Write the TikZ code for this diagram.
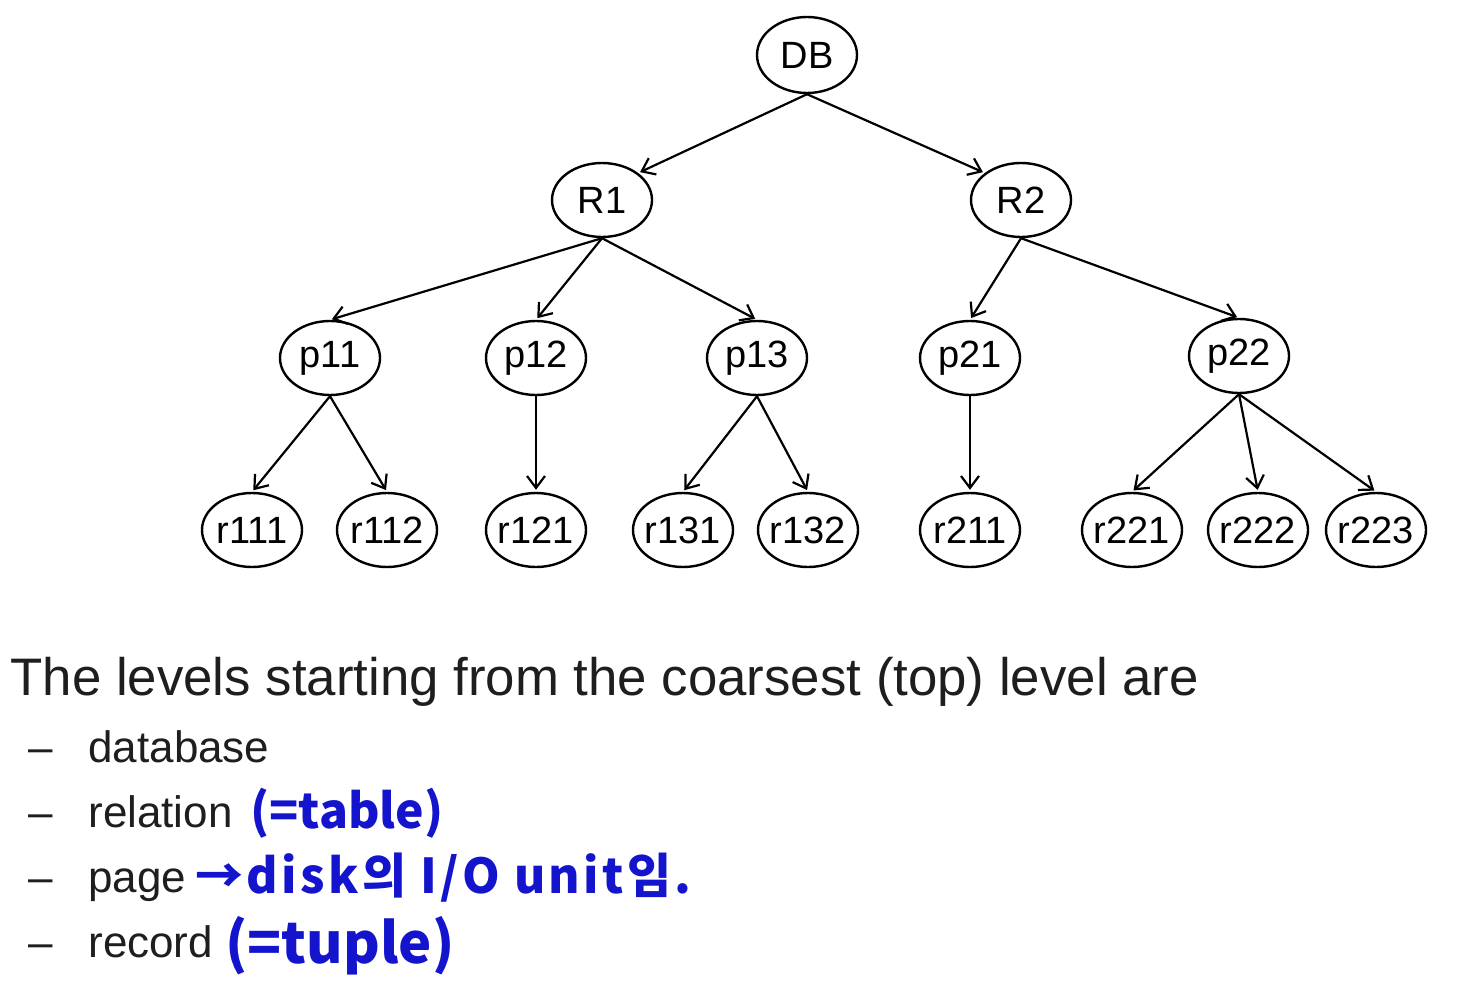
\documentclass[tikz,border=0pt]{standalone}
\usepackage{fontspec}
\setmainfont{Liberation Sans}
\newfontfamily\krfont{Noto Sans CJK KR}
\usetikzlibrary{shapes.geometric,arrows.meta}
\definecolor{inkblue}{RGB}{20,20,205}
\definecolor{txtgray}{RGB}{30,30,30}
\newcommand\fixw[1]{\makebox[30pt]{#1}}
\begin{document}
\begin{tikzpicture}[x=0.5pt,y=-0.5pt,
  tnode/.style={draw,ellipse,line width=1.2pt,minimum width=50pt,minimum height=37pt,inner sep=0pt,font=\fontsize{19}{19}\selectfont},
  edge/.style={line width=1.1pt,-{Straight Barb[length=6pt,width=9pt,line width=1.1pt]},shorten >=1pt},
  heading/.style={anchor=base west,inner sep=0pt,text=txtgray,font=\fontsize{26.4}{26.4}\selectfont},
  item/.style={anchor=base west,inner sep=0pt,text=txtgray,font=\fontsize{22}{22}\selectfont},
  hand/.style={anchor=base west,inner sep=0pt,text=inkblue,font=\krfont\bfseries\fontsize{24}{24}\selectfont}
]
\useasboundingbox (0,0) rectangle (1476,1000);
% tree nodes
\node[tnode,minimum height=38pt] (DB) at (807,55) {\fixw{DB}};
\node[tnode] (R1) at (602,200) {\fixw{R1}};
\node[tnode] (R2) at (1021,200) {\fixw{R2}};
\node[tnode] (p11) at (330,358) {\fixw{p11}};
\node[tnode] (p12) at (536,358) {\fixw{p12}};
\node[tnode] (p13) at (757,358) {\fixw{p13}};
\node[tnode] (p21) at (970,358) {\fixw{p21}};
\node[tnode] (p22) at (1239,356) {\fixw{p22}};
\node[tnode] (r111) at (252,530) {\fixw{r111}};
\node[tnode] (r112) at (387,530) {\fixw{r112}};
\node[tnode] (r121) at (536,530) {\fixw{r121}};
\node[tnode] (r131) at (683,530) {\fixw{r131}};
\node[tnode] (r132) at (808,530) {\fixw{r132}};
\node[tnode] (r211) at (970,530) {\fixw{r211}};
\node[tnode] (r221) at (1132,530) {\fixw{r221}};
\node[tnode] (r222) at (1258,530) {\fixw{r222}};
\node[tnode] (r223) at (1376,530) {\fixw{r223}};
% edges
\draw[edge] (DB.south) -- (R1.north east);
\draw[edge] (DB.south) -- (R2.north west);
\draw[edge] (R1.south) -- (p11.north);
\draw[edge] (R1.south) -- (p12.north);
\draw[edge] (R1.south) -- (p13.north);
\draw[edge] (R2.south) -- (p21.north);
\draw[edge] (R2.south) -- (p22.north);
\draw[edge] (p11.south) -- (r111.north);
\draw[edge] (p11.south) -- (r112.north);
\draw[edge] (p12.south) -- (r121.north);
\draw[edge] (p13.south) -- (r131.north);
\draw[edge] (p13.south) -- (r132.north);
\draw[edge] (p21.south) -- (r211.north);
\draw[edge] (p22.south) -- (r221.north);
\draw[edge] (p22.south) -- (r222.north);
\draw[edge] (p22.south) -- (r223.north);
% text
\node[heading] (head) at (10,695) {The levels starting from the coarsest (top) level are};
\node[item] (d1) at (28,762) {--};
\node[item] (t1) at (88,762) {database};
\node[item] (d2) at (28,827) {--};
\node[item] (t2) at (88,827) {relation};
\node[item] (d3) at (28,892) {--};
\node[item] (t3) at (88,892) {page};
\node[item] (d4) at (28,957) {--};
\node[item] (t4) at (88,957) {record};
% handwritten annotations
\node[hand] (a1) at (250,828) {(=table)};
\node[hand,font=\krfont\bfseries\fontsize{24}{24}\selectfont\addfontfeature{LetterSpace=7}] (a2) at (195,893) {→disk의 I/O unit임.};
\node[hand,font=\krfont\bfseries\fontsize{28}{28}\selectfont] (a3) at (225,963) {(=tuple)};
\end{tikzpicture}
\end{document}
